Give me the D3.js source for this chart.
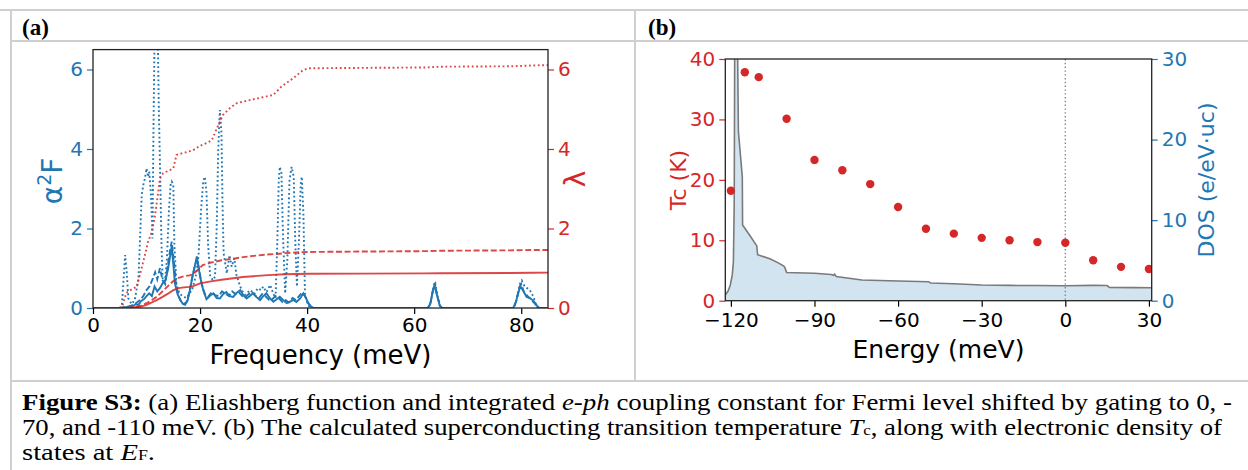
<!DOCTYPE html>
<html>
<head>
<meta charset="utf-8">
<script src="https://cdn.jsdelivr.net/npm/d3@7"></script>
<style>
  body { margin: 0; background: #fff; }
  svg { display: block; }
  .tick text { font-family: "DejaVu Sans", sans-serif; }
  .cap { font-family: "Liberation Serif", "Times New Roman", serif; font-size: 24px; }
</style>
</head>
<body>
<svg id="canvas" width="1248" height="470"></svg>
<script>
// ---- panel (a): Eliashberg function a2F(w) and cumulative lambda(w), [meV, value]
var a2fSolid = [[0,0],[5,0],[6,0.02],[7,0.03],[7.5,0.05],[8,0.1],[8.5,0.08],[9,0.18],[9.5,0.22],[10,0.3],[10.5,0.37],[11,0.3],[11.5,0.54],[12,0.42],[12.5,0.5],[13,0.62],[13.5,0.7],[14,0.96],[14.4,1.3],[14.7,1.55],[15,1.1],[15.3,0.62],[15.8,0.35],[16.3,0.2],[16.8,0.1],[17.2,0.08],[17.7,0.2],[18.1,0.45],[18.6,0.8],[19.1,1.1],[19.4,1.3],[19.7,1.05],[20,0.79],[20.6,0.45],[21.2,0.22],[21.8,0.3],[22.5,0.37],[23.1,0.25],[23.7,0.24],[24.3,0.35],[24.9,0.4],[25.5,0.3],[26.2,0.28],[26.8,0.38],[27.5,0.45],[28.1,0.32],[28.7,0.24],[29.3,0.3],[29.9,0.37],[30.5,0.28],[31.2,0.2],[31.8,0.3],[32.4,0.37],[33,0.25],[33.7,0.16],[34.3,0.22],[34.9,0.28],[35.5,0.2],[36.2,0.12],[36.8,0.16],[37.4,0.2],[38,0.15],[38.7,0.24],[39.3,0.37],[39.8,0.25],[40.2,0.12],[40.7,0.04],[41.2,0],[62.5,0],[63,0.1],[63.5,0.45],[63.8,0.55],[64.2,0.35],[64.8,0.05],[65.2,0],[78.5,0],[79,0.15],[79.5,0.4],[79.8,0.55],[80.3,0.45],[81,0.28],[81.6,0.25],[82.3,0.18],[83.1,0.03],[83.5,0],[85,0]];
var a2fDashed = [[0,0],[5,0],[6,0.02],[7,0.05],[8,0.12],[8.8,0.2],[9.4,0.3],[10,0.45],[10.6,0.55],[11.2,0.75],[11.6,0.9],[12,0.72],[12.5,1.0],[13,0.7],[13.5,0.6],[14,1.1],[14.4,1.45],[14.7,1.67],[15.1,1.2],[15.5,0.6],[16,0.3],[16.5,0.15],[17,0.1],[17.5,0.15],[18,0.4],[18.5,0.75],[19,1.05],[19.4,1.2],[19.8,1.0],[20.3,0.6],[20.9,0.35],[21.5,0.28],[22.2,0.4],[22.8,0.32],[23.5,0.3],[24.1,0.42],[24.7,0.36],[25.4,0.3],[26,0.42],[26.6,0.35],[27.2,0.4],[27.9,0.3],[28.5,0.28],[29.1,0.35],[29.7,0.4],[30.4,0.3],[31,0.25],[31.6,0.35],[32.2,0.3],[32.9,0.2],[33.5,0.22],[34.1,0.3],[34.7,0.25],[35.4,0.15],[36,0.2],[36.6,0.14],[37.3,0.25],[37.9,0.2],[38.5,0.3],[39.1,0.4],[39.6,0.3],[40.1,0.15],[40.6,0.05],[41,0],[62.6,0],[63.1,0.15],[63.6,0.5],[63.9,0.6],[64.3,0.3],[64.9,0.04],[65.3,0],[78.6,0],[79.1,0.2],[79.6,0.5],[80,0.6],[80.5,0.4],[81.2,0.3],[81.8,0.22],[82.5,0.12],[83.2,0],[85,0]];
var a2fDotted = [[0,0],[5,0],[5.4,0.08],[5.8,0.9],[6.0,1.33],[6.3,0.9],[6.6,0.24],[7.2,0.1],[7.8,0.2],[8.5,0.75],[8.8,1.8],[9.1,2.84],[9.4,3.1],[9.7,3.26],[10.0,3.51],[10.3,3.3],[10.5,3.43],[10.8,2.9],[11.0,2.26],[11.1,1.75],[11.3,4.5],[11.5,6.8],[11.8,7.5],[12.1,6.8],[12.3,5.0],[12.5,3.68],[12.8,1.58],[13.0,0.75],[13.4,0.6],[13.8,1.2],[14.2,2.5],[14.5,3.1],[14.7,3.18],[15.0,3.1],[15.2,1.58],[15.6,0.58],[16.2,0.35],[16.8,0.3],[17.4,0.25],[18.0,0.35],[18.6,0.5],[19.2,0.8],[19.7,1.29],[20.2,2.5],[20.6,3.2],[20.9,3.3],[21.2,2.9],[21.5,1.6],[21.9,0.79],[22.4,0.7],[22.8,0.79],[23.1,2.0],[23.4,4.0],[23.7,4.98],[24.0,4.4],[24.2,2.6],[24.4,1.38],[25.0,0.87],[25.5,1.33],[25.9,1.04],[26.4,1.25],[26.8,0.83],[27.5,0.54],[28.0,0.4],[28.4,0.33],[28.7,0.37],[29.4,0.45],[30.1,0.35],[30.8,0.5],[31.4,0.45],[31.8,0.54],[32.4,0.4],[33.1,0.58],[33.7,0.35],[34.1,0.25],[34.4,1.5],[34.7,3.2],[34.9,3.55],[35.2,3.4],[35.5,1.8],[35.9,0.37],[36.3,1.2],[36.7,3.2],[37.1,3.55],[37.5,3.3],[37.8,1.6],[38.1,0.54],[38.5,1.8],[38.8,3.1],[39.0,3.3],[39.3,2.4],[39.6,0.37],[40.0,0.15],[40.5,0],[62.7,0],[63.2,0.2],[63.6,0.55],[63.9,0.66],[64.3,0.35],[64.8,0.05],[65.2,0],[78.7,0],[79.3,0.3],[79.8,0.62],[80.1,0.69],[80.6,0.55],[81.1,0.5],[81.6,0.45],[82.0,0.35],[82.3,0.28],[82.7,0.1],[83.1,0],[85,0]];

var lamSolid = [[0,0],[5,0],[7,0.01],[8.8,0.03],[10,0.08],[11,0.14],[11.9,0.2],[13,0.28],[14,0.36],[15,0.45],[16,0.5],[17,0.52],[18,0.53],[18.7,0.55],[20,0.62],[22,0.67],[24,0.71],[26.2,0.75],[28,0.78],[30,0.8],[32,0.82],[34.3,0.84],[36,0.85],[38,0.855],[40.5,0.86],[50,0.865],[62,0.87],[65,0.875],[78,0.88],[82,0.885],[85,0.89]];
var lamDashed = [[0,0],[5,0],[7,0.01],[8.8,0.05],[10,0.12],[11,0.2],[11.9,0.28],[13,0.42],[14,0.55],[15,0.68],[16,0.76],[17,0.8],[18,0.82],[18.7,0.85],[19.5,0.95],[20.5,1.08],[22,1.14],[24,1.2],[26.2,1.24],[28,1.28],[30,1.31],[32,1.34],[34.3,1.36],[36,1.38],[38,1.4],[40.5,1.41],[50,1.42],[62,1.43],[65,1.44],[78,1.45],[82,1.46],[85,1.46]];
var lamDotted = [[0,0],[5,0],[5.5,0.05],[6.2,0.38],[7,0.45],[8.2,0.54],[9.4,1.17],[10.3,1.67],[11,1.92],[11.6,2.34],[12.2,2.93],[12.5,3.26],[13.1,3.39],[15,3.51],[15.6,3.85],[16.6,3.89],[18.7,3.97],[20,4.08],[21.2,4.15],[22.2,4.22],[23.4,4.6],[24.3,4.86],[25.5,5.02],[26.8,5.15],[29.3,5.23],[33.7,5.36],[35.2,5.57],[37.4,5.78],[39.2,5.98],[40.2,6.03],[50,6.04],[62,6.05],[65,6.07],[78,6.08],[82,6.1],[85,6.11]];

var freqTicks = [0, 20, 40, 60, 80];
var a2fTicks = [0, 2, 4, 6];
var lamTicks = [0, 2, 4, 6];

// ---- panel (b): Tc vs Fermi level shift, and DOS at E_F
var tcEnergy = [-120, -115, -110, -100, -90, -80, -70, -60, -50, -40, -30, -20, -10, 0, 10, 20, 30];
var tcValues = [18.2, 37.8, 37.0, 30.1, 23.3, 21.6, 19.3, 15.5, 11.9, 11.1, 10.4, 10.0, 9.7, 9.6, 6.7, 5.6, 5.25];

var dosEnergy = [-122, -121, -120.2, -119.5, -119.1, -118.8, -118.5, -118.0, -117.7, -117.3, -115.9, -115.8, -113, -110.7, -110.4, -106, -103, -101, -100.6, -100, -90, -84, -83.3, -82.8, -82.2, -73, -60, -49, -48.4, -40, -30, -20, -10, 0, 10, 15, 15.8, 25, 31];
var dosValues = [0.7, 1.2, 1.95, 3.2, 4.8, 12, 45, 45, 35, 21, 15.4, 9.4, 8.0, 6.8, 5.7, 5.2, 4.7, 4.3, 4.1, 3.5, 3.4, 3.25, 3.15, 3.3, 3.0, 2.57, 2.45, 2.36, 2.2, 2.1, 1.95, 1.9, 1.88, 1.85, 1.9, 1.88, 1.65, 1.62, 1.6];

var energyTicks = [-120, -90, -60, -30, 0, 30];
var tcTicks = [0, 10, 20, 30, 40];
var dosTicks = [0, 10, 20, 30];

var blue = "#1f77b4", red = "#d62728";
var svg = d3.select("#canvas");
var fmt = function(d) { return String(d).replace("-", "\u2212"); };

// ---- table frame
var grid = svg.append("g").attr("stroke", "#cfcfcf").attr("stroke-width", 2);
grid.append("line").attr("x1", 0).attr("x2", 1248).attr("y1", 10).attr("y2", 10);
grid.append("line").attr("x1", 11).attr("x2", 1248).attr("y1", 41).attr("y2", 41);
grid.append("line").attr("x1", 11).attr("x2", 1248).attr("y1", 381).attr("y2", 381);
grid.append("line").attr("x1", 11).attr("x2", 11).attr("y1", 10).attr("y2", 470);
grid.append("line").attr("x1", 635).attr("x2", 635).attr("y1", 10).attr("y2", 381);

svg.append("text").attr("x", 22).attr("y", 35)
	.style("font", "bold 23px 'Liberation Serif', serif").text("(a)");
svg.append("text").attr("x", 648).attr("y", 35)
	.style("font", "bold 23px 'Liberation Serif', serif").text("(b)");

function styleAxis(g, color) {
	g.selectAll(".domain").remove();
	g.selectAll(".tick line").attr("stroke", color).attr("stroke-width", 1.2);
	g.selectAll(".tick text").attr("fill", color).style("font-size", "20px");
}

// ================= panel (a)
var xa = d3.scaleLinear().domain([0, 85]).range([93, 548]);
var ya = d3.scaleLinear().domain([0, 6.5]).range([308, 49.6]);
var yl = d3.scaleLinear().domain([0, 6.5]).range([308, 49.6]);

svg.append("clipPath").attr("id", "clipA").append("rect")
	.attr("x", 93).attr("y", 49.6).attr("width", 455).attr("height", 258.4);

var lineA = d3.line().x(function(d) { return xa(d[0]); }).y(function(d) { return ya(d[1]); });
var plotA = svg.append("g").attr("clip-path", "url(#clipA)").attr("fill", "none");

var seriesA = [
	{ data: a2fDotted, color: blue, dash: "1.8,2.6" },
	{ data: a2fDashed, color: blue, dash: "6,2.6" },
	{ data: a2fSolid, color: blue, dash: null },
	{ data: lamDotted, color: red, dash: "1.8,2.6" },
	{ data: lamDashed, color: red, dash: "6,2.6" },
	{ data: lamSolid, color: red, dash: null }
];
plotA.selectAll("path").data(seriesA).enter().append("path")
	.attr("d", function(d) { return lineA(d.data); })
	.attr("stroke", function(d) { return d.color; })
	.attr("stroke-opacity", function(d) { return d.color == red ? 0.85 : 1; })
	.attr("stroke-width", 1.9)
	.attr("stroke-dasharray", function(d) { return d.dash; });

svg.append("g").attr("transform", "translate(0,308)")
	.call(d3.axisBottom(xa).tickValues(freqTicks).tickFormat(d3.format("d")).tickSize(6).tickPadding(4))
	.call(styleAxis, "#000");
svg.append("g").attr("transform", "translate(93,0)")
	.call(d3.axisLeft(ya).tickValues(a2fTicks).tickFormat(d3.format("d")).tickSize(6).tickPadding(4))
	.call(styleAxis, blue);
svg.append("g").attr("transform", "translate(548,0)")
	.call(d3.axisRight(yl).tickValues(lamTicks).tickFormat(d3.format("d")).tickSize(6).tickPadding(4))
	.call(styleAxis, red);

svg.append("rect").attr("x", 93).attr("y", 49.6).attr("width", 455).attr("height", 258.4)
	.attr("fill", "none").attr("stroke", "#222").attr("stroke-width", 1.3);

svg.append("text").attr("x", 320.5).attr("y", 364).attr("text-anchor", "middle")
	.style("font", "26px 'DejaVu Sans', sans-serif").text("Frequency (meV)");

var a2fLabel = svg.append("text").attr("transform", "translate(62,181) rotate(-90)")
	.attr("text-anchor", "middle").attr("fill", blue)
	.style("font", "28px 'DejaVu Sans', sans-serif");
a2fLabel.append("tspan").text("\u03b1");
a2fLabel.append("tspan").attr("dy", -11).style("font-size", "19px").text("2");
a2fLabel.append("tspan").attr("dy", 11).text("F");

svg.append("text").attr("transform", "translate(585,179) rotate(-90)")
	.attr("text-anchor", "middle").attr("fill", red)
	.style("font", "28px 'DejaVu Sans', sans-serif").text("\u03bb");

// ================= panel (b)
var xb = d3.scaleLinear().domain([-122, 31]).range([725.3, 1151.7]);
var yt = d3.scaleLinear().domain([0, 40]).range([300.7, 59]);
var yd = d3.scaleLinear().domain([0, 30]).range([300.7, 59]);

svg.append("clipPath").attr("id", "clipB").append("rect")
	.attr("x", 725.3).attr("y", 59).attr("width", 426.4).attr("height", 241.7);

var dos = dosEnergy.map(function(e, i) { return [e, dosValues[i]]; });
var plotB = svg.append("g").attr("clip-path", "url(#clipB)");

plotB.append("path")
	.attr("d", d3.area().x(function(d) { return xb(d[0]); }).y0(yd(0)).y1(function(d) { return yd(d[1]); })(dos))
	.attr("fill", blue).attr("fill-opacity", 0.2);
plotB.append("path")
	.attr("d", d3.line().x(function(d) { return xb(d[0]); }).y(function(d) { return yd(d[1]); })(dos))
	.attr("fill", "none").attr("stroke", "#7a7a7a").attr("stroke-width", 1.6);

plotB.append("line").attr("x1", xb(0)).attr("x2", xb(0)).attr("y1", 59).attr("y2", 300.7)
	.attr("stroke", "#888").attr("stroke-width", 1.4).attr("stroke-dasharray", "1.4,2.4");

plotB.selectAll("circle").data(tcEnergy).enter().append("circle")
	.attr("cx", function(d) { return xb(d); })
	.attr("cy", function(d, i) { return yt(tcValues[i]); })
	.attr("r", 4.2).attr("fill", red);

svg.append("g").attr("transform", "translate(0,300.7)")
	.call(d3.axisBottom(xb).tickValues(energyTicks).tickFormat(fmt).tickSize(6).tickPadding(6))
	.call(styleAxis, "#000");
svg.append("g").attr("transform", "translate(725.3,0)")
	.call(d3.axisLeft(yt).tickValues(tcTicks).tickSize(6).tickPadding(4))
	.call(styleAxis, red);
svg.append("g").attr("transform", "translate(1151.7,0)")
	.call(d3.axisRight(yd).tickValues(dosTicks).tickSize(6).tickPadding(4))
	.call(styleAxis, blue);

svg.append("rect").attr("x", 725.3).attr("y", 59).attr("width", 426.4).attr("height", 241.7)
	.attr("fill", "none").attr("stroke", "#222").attr("stroke-width", 1.3);

svg.append("text").attr("x", 938.5).attr("y", 358).attr("text-anchor", "middle")
	.style("font", "25px 'DejaVu Sans', sans-serif").text("Energy (meV)");
svg.append("text").attr("transform", "translate(686,180) rotate(-90)")
	.attr("text-anchor", "middle").attr("fill", red)
	.style("font", "22px 'DejaVu Sans', sans-serif").text("Tc (K)");
svg.append("text").attr("transform", "translate(1214,180) rotate(-90)")
	.attr("text-anchor", "middle").attr("fill", blue)
	.style("font", "22px 'DejaVu Sans', sans-serif").text("DOS (e/eV\u00b7uc)");

// ================= caption
var cap = svg.append("g").attr("class", "cap");
var l1 = cap.append("text").attr("x", 22).attr("y", 410)
	.attr("textLength", 1210).attr("lengthAdjust", "spacingAndGlyphs");
l1.append("tspan").style("font-weight", "bold").text("Figure S3:");
l1.append("tspan").text(" (a) Eliashberg function and integrated ");
l1.append("tspan").style("font-style", "italic").text("e-ph");
l1.append("tspan").text(" coupling constant for Fermi level shifted by gating to 0, -");
var l2 = cap.append("text").attr("x", 22).attr("y", 435)
	.attr("textLength", 1200).attr("lengthAdjust", "spacingAndGlyphs");
l2.append("tspan").text("70, and -110 meV. (b) The calculated superconducting transition temperature ");
l2.append("tspan").style("font-style", "italic").text("T");
l2.append("tspan").style("font-size", "15px").text("c");
l2.append("tspan").text(", along with electronic density of");
var l3 = cap.append("text").attr("x", 22).attr("y", 460)
	.attr("textLength", 133).attr("lengthAdjust", "spacingAndGlyphs");
l3.append("tspan").text("states at ");
l3.append("tspan").style("font-style", "italic").text("E");
l3.append("tspan").style("font-size", "15px").text("F");
l3.append("tspan").text(".");
</script>
</body>
</html>
